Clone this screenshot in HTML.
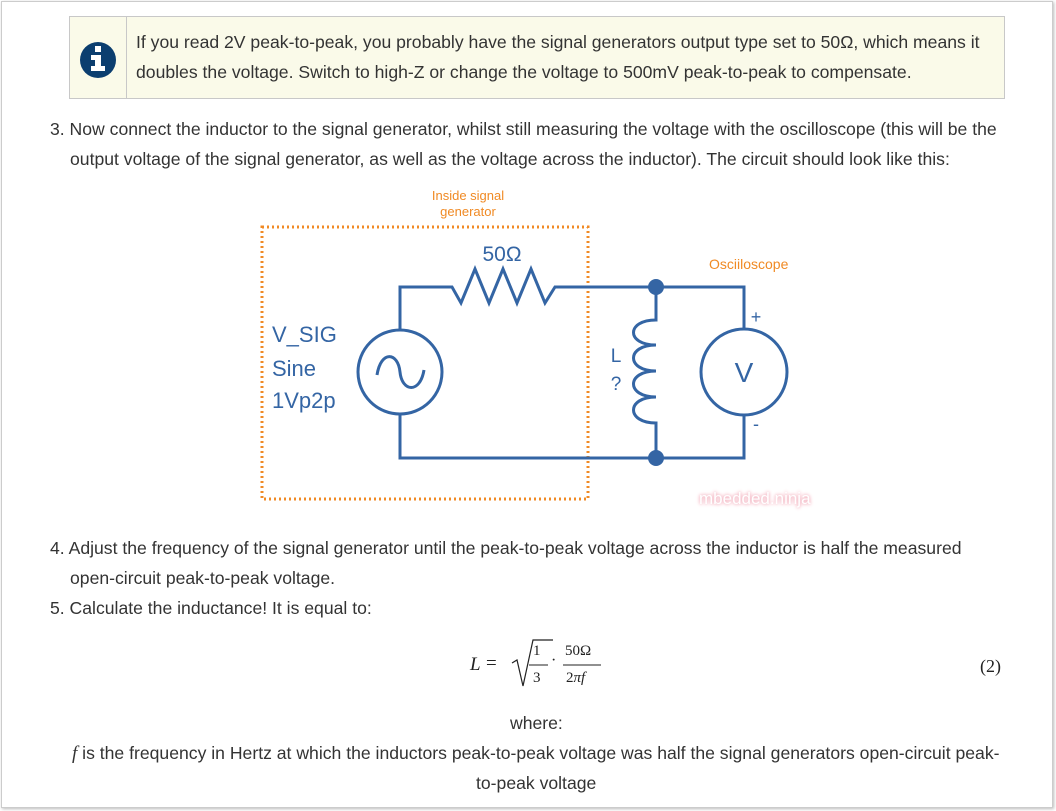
<!DOCTYPE html>
<html><head><meta charset="utf-8"><style>
body{margin:0;width:1056px;height:811px;background:#fff;font-family:"Liberation Sans",sans-serif;color:#333;position:relative;overflow:hidden}
.frame{position:absolute;left:1px;top:1px;width:1050px;height:805px;border:1px solid #ccc;box-shadow:1px 1px 3px #bbb}
.t{position:absolute;font-size:17.6px;white-space:nowrap;color:#333}
.info{position:absolute;left:69px;top:16px;width:934px;height:81px;background:#fafae9;border:1px solid #c8c8c8}
.info .col{position:absolute;left:0;top:0;width:56px;height:81px;border-right:1px solid #c8c8c8}
.m{font-family:"Liberation Serif",serif;position:absolute;white-space:nowrap;color:#222}
</style></head><body>
<div class="frame"></div>
<div class="info"><div class="col">
<svg width="56" height="81"><circle cx="28" cy="43" r="18" fill="#0b3e6f"/><rect x="25" y="29" width="6" height="6" fill="#fff"/><path d="M21 38h10v11h4v5H21v-5h4v-6h-4z" fill="#fff"/></svg></div></div>
<div class="t" style="left:136px;top:32px">If you read 2V peak-to-peak, you probably have the signal generators output type set to 50Ω, which means it</div>
<div class="t" style="left:136px;top:62px">doubles the voltage. Switch to high-Z or change the voltage to 500mV peak-to-peak to compensate.</div>
<div class="t" style="left:50px;top:119px">3. Now connect the inductor to the signal generator, whilst still measuring the voltage with the oscilloscope (this will be the</div>
<div class="t" style="left:70px;top:149px">output voltage of the signal generator, as well as the voltage across the inductor). The circuit should look like this:</div>
<svg style="position:absolute;left:0;top:0" width="1056" height="811">
<g fill="none" stroke="#3465a4" stroke-width="3">
<rect x="262" y="227" width="326" height="272" stroke="#f08a24" stroke-width="3" stroke-dasharray="2 3"/>
<polyline points="400,330 400,287 452,287 461,303 475,269 489,303 503,269 517,303 531,269 545,303 555,287 744,287 744,330"/>
<polyline points="400,415 400,458 744,458 744,416"/>
<circle cx="400" cy="372" r="42"/>
<circle cx="744" cy="372" r="43"/>
<path d="M377 375 C381 350,398 352,400 372 C402 392,420 394,424 370"/>
<path d="M656 287 V320 C626 320,626 345,656 345 C626 345,626 371,656 371 C626 371,626 397,656 397 C626 397,626 423,656 423 V458"/>
</g>
<circle cx="656" cy="287" r="8" fill="#3465a4"/><circle cx="656" cy="458" r="8" fill="#3465a4"/>
<g font-family="Liberation Sans,sans-serif" fill="#3465a4">
<text x="272" y="342" font-size="22">V_SIG</text>
<text x="272" y="376" font-size="22">Sine</text>
<text x="272" y="408" font-size="22">1Vp2p</text>
<text x="502" y="261" font-size="21" text-anchor="middle">50Ω</text>
<text x="744" y="382" font-size="28" text-anchor="middle">V</text>
<text x="616" y="362" font-size="19" text-anchor="middle">L</text>
<text x="616" y="390" font-size="19" text-anchor="middle">?</text>
<text x="756" y="323" font-size="18" text-anchor="middle">+</text>
<text x="756" y="430" font-size="18" text-anchor="middle">-</text>
</g>
<g font-family="Liberation Sans,sans-serif" fill="#f08a24" font-size="13">
<text x="468" y="200" text-anchor="middle">Inside signal</text>
<text x="468" y="216" text-anchor="middle">generator</text>
<text x="709" y="269" font-size="14">Osciiloscope</text>
</g>
<path d="M512 663 l5 -3 l6 26 l10 -46 h20" fill="none" stroke="#222" stroke-width="1.2"/>
<line x1="529" y1="665" x2="548" y2="665" stroke="#222"/>
<line x1="563" y1="665" x2="601" y2="665" stroke="#222"/>
</svg>
<div style="position:absolute;left:699px;top:489px;font-size:17px;color:#fff;text-shadow:0 0 3px #f0a0b0,0 0 5px #f5c0cc">mbedded.ninja</div>
<div class="t" style="left:50px;top:538px">4. Adjust the frequency of the signal generator until the peak-to-peak voltage across the inductor is half the measured</div>
<div class="t" style="left:70px;top:568px">open-circuit peak-to-peak voltage.</div>
<div class="t" style="left:50px;top:598px">5. Calculate the inductance! It is equal to:</div>
<div class="m" style="left:470px;top:654px;font-size:19px;font-style:italic">L</div>
<div class="m" style="left:486px;top:653px;font-size:19px">=</div>
<div class="m" style="left:533px;top:643px;font-size:15px">1</div>
<div class="m" style="left:533px;top:670px;font-size:15px">3</div>
<div class="m" style="left:551px;top:652px;font-size:16px">·</div>
<div class="m" style="left:565px;top:643px;font-size:15px">50Ω</div>
<div class="m" style="left:566px;top:670px;font-size:15px">2<i>πf</i></div>
<div class="m" style="left:980px;top:656px;font-size:18px">(2)</div>
<div class="t" style="left:510px;top:713px">where:</div>
<div class="t" style="left:72px;top:743px"><i style="font-family:'Liberation Serif',serif;font-size:19px">f</i> is the frequency in Hertz at which the inductors peak-to-peak voltage was half the signal generators open-circuit peak-</div>
<div class="t" style="left:476px;top:773px">to-peak voltage</div>
</body></html>
